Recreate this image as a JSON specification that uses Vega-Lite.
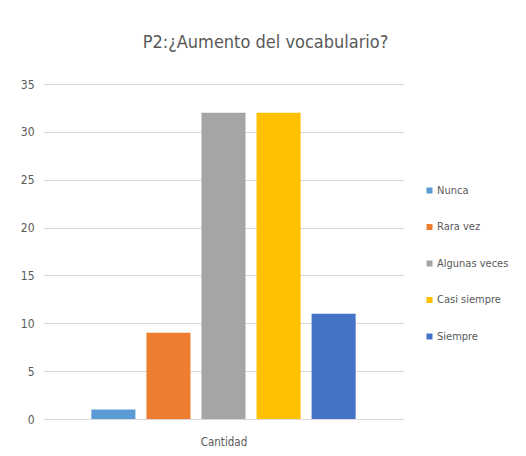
{
  "$schema": "https://vega.github.io/schema/vega-lite/v6.json",
  "width": 359,
  "height": 335,
  "autosize": {"type": "none"},
  "padding": {"left": 44, "top": 84, "right": 123, "bottom": 37},
  "background": "white",
  "title": {
    "text": "P2:¿Aumento del vocabulario?",
    "fontSize": 18,
    "font": "DejaVu Sans Condensed, DejaVu Sans, sans-serif",
    "fontWeight": "normal",
    "color": "#595959",
    "anchor": "middle",
    "dx": 42,
    "offset": 26
  },
  "data": {
    "values": [
      {"categoria": "Nunca", "cantidad": 1},
      {"categoria": "Rara vez", "cantidad": 9},
      {"categoria": "Algunas veces", "cantidad": 32},
      {"categoria": "Casi siempre", "cantidad": 32},
      {"categoria": "Siempre", "cantidad": 11}
    ]
  },
  "mark": {"type": "bar"},
  "encoding": {
    "x": {
      "field": "categoria",
      "type": "nominal",
      "sort": null,
      "scale": {"paddingInner": 0.2, "paddingOuter": 0.86},
      "axis": {
        "title": "Cantidad",
        "labels": false,
        "ticks": false,
        "domainColor": "#d9d9d9",
        "domainWidth": 1,
        "titleFont": "DejaVu Sans Condensed, DejaVu Sans, sans-serif",
        "titleFontSize": 11.5,
        "titleFontWeight": "normal",
        "titleColor": "#595959",
        "titlePadding": 17
      }
    },
    "y": {
      "field": "cantidad",
      "type": "quantitative",
      "scale": {"domain": [0, 35]},
      "axis": {
        "title": null,
        "values": [0, 5, 10, 15, 20, 25, 30, 35],
        "domain": false,
        "ticks": false,
        "gridColor": "#d9d9d9",
        "labelFont": "DejaVu Sans Condensed, DejaVu Sans, sans-serif",
        "labelFontSize": 12,
        "labelColor": "#595959",
        "labelPadding": 10
      }
    },
    "color": {
      "field": "categoria",
      "type": "nominal",
      "sort": null,
      "scale": {
        "domain": ["Nunca", "Rara vez", "Algunas veces", "Casi siempre", "Siempre"],
        "range": ["#5B9BD5", "#ED7D31", "#A5A5A5", "#FFC000", "#4472C4"]
      },
      "legend": {
        "title": null,
        "orient": "none",
        "legendX": 380,
        "legendY": 101,
        "symbolType": "square",
        "symbolSize": 36,
        "symbolStrokeWidth": 0,
        "rowPadding": 24.5,
        "labelOffset": 2,
        "labelFont": "DejaVu Sans Condensed, DejaVu Sans, sans-serif",
        "labelFontSize": 11,
        "labelColor": "#595959"
      }
    }
  },
  "config": {"view": {"stroke": null}}
}
